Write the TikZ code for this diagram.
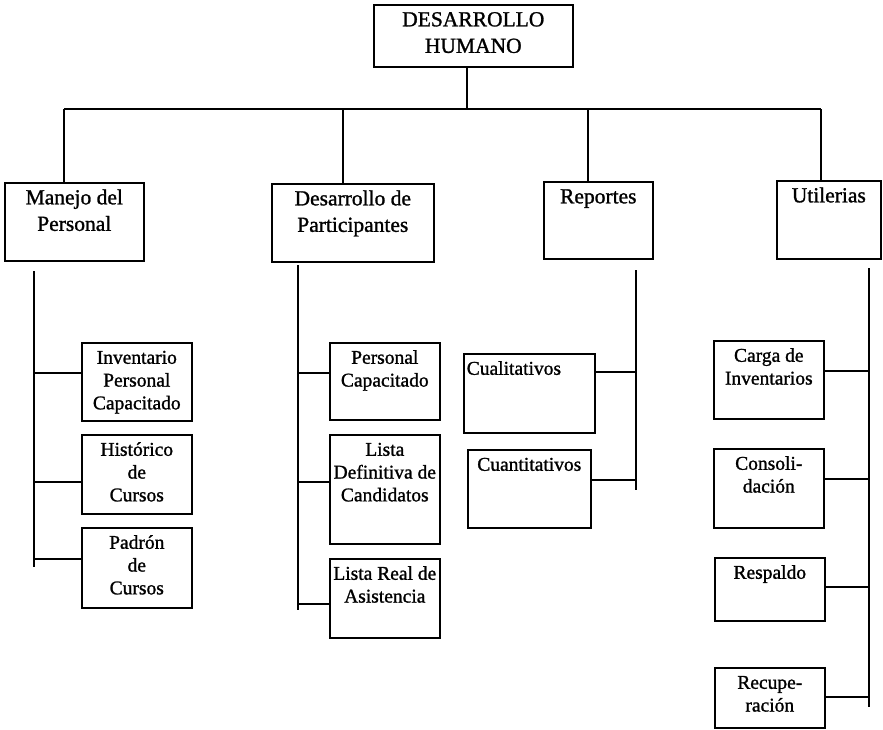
\documentclass[tikz,border=0pt]{standalone}
\usepackage{fontspec}
\setmainfont{Liberation Serif}[FakeBold=1.2]
\begin{document}
\begin{tikzpicture}[x=1pt, y=-1pt,
  line width=1.6pt,
  box/.style={draw, line width=1.6pt, inner sep=0pt, anchor=north west},
  head/.style={font=\fontsize{21.5}{26.5}\selectfont, align=center, inner sep=0pt, anchor=north, yshift=-3pt},
  item/.style={font=\fontsize{19.5}{22.8}\selectfont, align=center, inner sep=0pt, anchor=north, yshift=-5pt}]
\useasboundingbox (0,0) rectangle (883,729);

% root
\node[box, minimum width=199pt, minimum height=62pt] (top) at (373,4) {};
\node[head] (top-t) at (top.north) {\strut DESARROLLO\\HUMANO};

% first level
\node[box, minimum width=139pt, minimum height=78pt] (man) at (4,182) {};
\node[head] (man-t) at (man.north) {\strut Manejo del\\Personal};
\node[box, minimum width=162pt, minimum height=78pt] (des) at (271,183) {};
\node[head] (des-t) at (des.north) {\strut Desarrollo de\\Participantes};
\node[box, minimum width=109pt, minimum height=77pt] (rep) at (543,181) {};
\node[head] (rep-t) at (rep.north) {\strut Reportes};
\node[box, minimum width=104pt, minimum height=78pt] (uti) at (776,180) {};
\node[head] (uti-t) at (uti.north) {\strut Utilerias};

% Manejo del Personal
\node[box, minimum width=110pt, minimum height=78pt] (inv) at (81,342) {};
\node[item] (inv-t) at (inv.north) {\strut Inventario\\Personal\\Capacitado};
\node[box, minimum width=110pt, minimum height=79pt] (his) at (81,434) {};
\node[item] (his-t) at (his.north) {\strut Histórico\\de\\Cursos};
\node[box, minimum width=110pt, minimum height=80pt] (pad) at (81,527) {};
\node[item] (pad-t) at (pad.north) {\strut Padrón\\de\\Cursos};

% Desarrollo de Participantes
\node[box, minimum width=110pt, minimum height=77pt] (pc) at (329,342) {};
\node[item] (pc-t) at (pc.north) {\strut Personal\\Capacitado};
\node[box, minimum width=110pt, minimum height=109pt] (ldc) at (329,434) {};
\node[item] (ldc-t) at (ldc.north) {\strut Lista\\Definitiva de\\Candidatos};
\node[box, minimum width=110pt, minimum height=79pt] (lra) at (329,558) {};
\node[item] (lra-t) at (lra.north) {\strut Lista Real de\\Asistencia};

% Reportes
\node[box, minimum width=131pt, minimum height=79pt] (cual) at (463,353) {};
\node[item, anchor=north west, xshift=3pt] (cual-t) at (cual.north west) {\strut Cualitativos};
\node[box, minimum width=123pt, minimum height=78pt] (cuan) at (467,449) {};
\node[item] (cuan-t) at (cuan.north) {\strut Cuantitativos};

% Utilerias
\node[box, minimum width=110pt, minimum height=78pt] (car) at (713,340) {};
\node[item] (car-t) at (car.north) {\strut Carga de\\Inventarios};
\node[box, minimum width=110pt, minimum height=79pt] (con) at (713,448) {};
\node[item] (con-t) at (con.north) {\strut Consoli-\\dación};
\node[box, minimum width=110pt, minimum height=63pt] (res) at (714,557) {};
\node[item] (res-t) at (res.north) {\strut Respaldo};
\node[box, minimum width=110pt, minimum height=60pt] (rec) at (714,667) {};
\node[item] (rec-t) at (rec.north) {\strut Recupe-\\ración};

% bus from the root to the first level
\coordinate (hub) at (467,109);
\coordinate (dm) at (64,109);
\coordinate (dd) at (343,109);
\coordinate (dr) at (588,109);
\coordinate (du) at (821,109);
\draw (hub |- top.south) -- (hub);
\draw (dm) -- (du);
\draw (dm) -- (dm |- man.north);
\draw (dd) -- (dd |- des.north);
\draw (dr) -- (dr |- rep.north);
\draw (du) -- (du |- uti.north);

% Manejo del Personal trunk
\coordinate (m0) at (34,271);
\coordinate (m9) at (34,567);
\coordinate (m1) at (34,373);
\coordinate (m2) at (34,482);
\coordinate (m3) at (34,559);
\draw (m0) -- (m9);
\draw (m1) -- (m1 -| inv.west);
\draw (m2) -- (m2 -| his.west);
\draw (m3) -- (m3 -| pad.west);

% Desarrollo de Participantes trunk
\coordinate (d0) at (298,265);
\coordinate (d9) at (298,610);
\coordinate (d1) at (298,373);
\coordinate (d2) at (298,482);
\coordinate (d3) at (298,604);
\draw (d0) -- (d9);
\draw (d1) -- (d1 -| pc.west);
\draw (d2) -- (d2 -| ldc.west);
\draw (d3) -- (d3 -| lra.west);

% Reportes trunk
\coordinate (r0) at (636,270);
\coordinate (r9) at (636,490);
\coordinate (r1) at (636,372);
\coordinate (r2) at (636,480);
\draw (r0) -- (r9);
\draw (r1) -- (r1 -| cual.east);
\draw (r2) -- (r2 -| cuan.east);

% Utilerias trunk
\coordinate (u0) at (869,268);
\coordinate (u9) at (869,707);
\coordinate (u1) at (869,371);
\coordinate (u2) at (869,479);
\coordinate (u3) at (869,587);
\coordinate (u4) at (869,697);
\draw (u0) -- (u9);
\draw (u1) -- (u1 -| car.east);
\draw (u2) -- (u2 -| con.east);
\draw (u3) -- (u3 -| res.east);
\draw (u4) -- (u4 -| rec.east);
\end{tikzpicture}
\end{document}
